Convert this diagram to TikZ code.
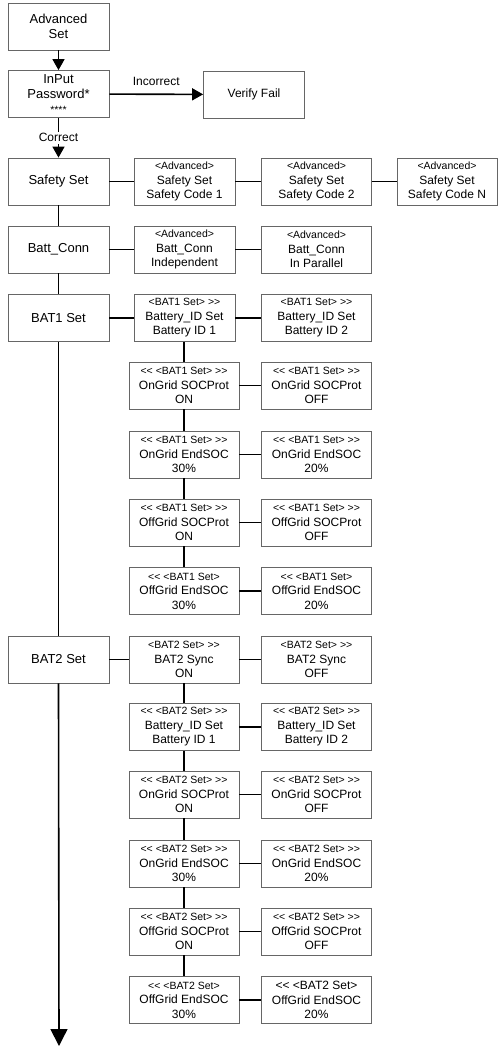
\documentclass[tikz,border=0pt]{standalone}
\usepackage{fontspec}
\setmainfont{Liberation Sans}
\usetikzlibrary{arrows.meta}
\newcommand{\sm}[1]{{\fontsize{10.5}{14.5}\selectfont #1}}
\newcommand{\LL}{<{}<}
\newcommand{\GG}{>{}>}
\begin{document}
\begin{tikzpicture}[x=1pt,y=-1pt,
  box/.style={draw=black!60, line width=0.8pt, minimum height=47pt, inner sep=0pt, align=center,
    font=\fontsize{12}{14.5}\selectfont},
  lbox/.style={box, minimum width=101pt, font=\fontsize{13}{15}\selectfont},
  sbox/.style={box, minimum width=101pt},
  rbox/.style={box, minimum width=110pt},
  conn/.style={line width=1.6pt, black},
  arr/.style={conn, -{Triangle[width=12pt,length=11pt]}},
  bigarr/.style={conn, -{Triangle[width=17pt,length=17pt]}},
  lab/.style={font=\fontsize{12}{14}\selectfont}
]
\useasboundingbox (0,0) rectangle (499,1047);

% left column
\node[lbox] (adv) at (58.5,26.5) {Advanced\\Set};
\node[lbox] (pwd) at (58.5,94) {InPut\\Password*\\\sm{****}};
\node[box, minimum width=101pt] (fail) at (254,94.5) {Verify Fail};
\node[lbox] (safety) at (58.5,181.5) {Safety Set};
\node[lbox] (batt) at (58.5,249.5) {Batt\_Conn};
\node[lbox] (bat1) at (58.5,318) {BAT1 Set};
\node[lbox] (bat2) at (58.5,659.5) {BAT2 Set};
\coordinate (end) at (59,1046);

\draw[arr] (adv) -- (pwd);
\draw[arr] (pwd) -- node[lab, above=5pt] {Incorrect} (fail);
\draw[arr] (pwd) -- node[lab, fill=white, inner sep=1.5pt] {Correct} (safety);
\draw[conn] (safety) -- (batt);
\draw[conn] (batt) -- (bat1);
\draw[conn] (bat1) -- (bat2);
\draw[bigarr] (bat2.south) -- (end);

% safety set
\node[sbox] (sc1) at (184.5,181.5) {\sm{<Advanced>}\\Safety Set\\Safety Code 1};
\node[rbox] (sc2) at (316.5,181.5) {\sm{<Advanced>}\\Safety Set\\Safety Code 2};
\node[sbox, minimum width=100pt] (scN) at (447,181.5) {\sm{<Advanced>}\\Safety Set\\Safety Code N};
\draw[conn] (safety) -- (sc1);
\draw[conn] (sc1) -- (sc2);
\draw[conn] (sc2) -- (scN);

% batt conn
\node[sbox] (ind) at (184.5,249.5) {\sm{<Advanced>}\\Batt\_Conn\\Independent};
\node[rbox] (par) at (316.5,249.5) {\sm{<Advanced>}\\Batt\_Conn\\In Parallel};
\draw[conn] (batt) -- (ind);
\draw[conn] (ind) -- (par);

% BAT1
\node[sbox] (a0l) at (184.5,318) {\sm{<BAT1 Set> \GG}\\Battery\_ID Set\\Battery ID 1};
\node[rbox] (a0r) at (316.5,318) {\sm{<BAT1 Set> \GG}\\Battery\_ID Set\\Battery ID 2};
\node[rbox] (a1l) at (184,385.5) {\sm{\LL{} <BAT1 Set> \GG}\\OnGrid SOCProt\\ON};
\node[rbox] (a1r) at (316.5,385.5) {\sm{\LL{} <BAT1 Set> \GG}\\OnGrid SOCProt\\OFF};
\node[rbox] (a2l) at (184,454.5) {\sm{\LL{} <BAT1 Set> \GG}\\OnGrid EndSOC\\30\%};
\node[rbox] (a2r) at (316.5,454.5) {\sm{\LL{} <BAT1 Set> \GG}\\OnGrid EndSOC\\20\%};
\node[rbox] (a3l) at (184,522.5) {\sm{\LL{} <BAT1 Set> \GG}\\OffGrid SOCProt\\ON};
\node[rbox] (a3r) at (316.5,522.5) {\sm{\LL{} <BAT1 Set> \GG}\\OffGrid SOCProt\\OFF};
\node[rbox] (a4l) at (184,591) {\sm{\LL{} <BAT1 Set>}\\OffGrid EndSOC\\30\%};
\node[rbox] (a4r) at (316.5,591) {\sm{\LL{} <BAT1 Set>}\\OffGrid EndSOC\\20\%};
\draw[conn] (bat1) -- (a0l);
\draw[conn] (a0l) -- (a0r);
\draw[conn] (a0l.south -| a1l.north) -- (a1l.north);
\foreach \i/\j in {1/2,2/3,3/4} \draw[conn] (a\i l) -- (a\j l);
\foreach \i in {1,2,3,4} \draw[conn] (a\i l) -- (a\i r);

% BAT2
\node[rbox] (b0l) at (184,659.5) {\sm{<BAT2 Set> \GG}\\BAT2 Sync\\ON};
\node[rbox] (b0r) at (316.5,659.5) {\sm{<BAT2 Set> \GG}\\BAT2 Sync\\OFF};
\node[rbox] (b1l) at (184,727) {\sm{\LL{} <BAT2 Set> \GG}\\Battery\_ID Set\\Battery ID 1};
\node[rbox] (b1r) at (316.5,727) {\sm{\LL{} <BAT2 Set> \GG}\\Battery\_ID Set\\Battery ID 2};
\node[rbox] (b2l) at (184,794.5) {\sm{\LL{} <BAT2 Set> \GG}\\OnGrid SOCProt\\ON};
\node[rbox] (b2r) at (316.5,794.5) {\sm{\LL{} <BAT2 Set> \GG}\\OnGrid SOCProt\\OFF};
\node[rbox] (b3l) at (184,863.5) {\sm{\LL{} <BAT2 Set> \GG}\\OnGrid EndSOC\\30\%};
\node[rbox] (b3r) at (316.5,863.5) {\sm{\LL{} <BAT2 Set> \GG}\\OnGrid EndSOC\\20\%};
\node[rbox] (b4l) at (184,931.5) {\sm{\LL{} <BAT2 Set> \GG}\\OffGrid SOCProt\\ON};
\node[rbox] (b4r) at (316.5,931.5) {\sm{\LL{} <BAT2 Set> \GG}\\OffGrid SOCProt\\OFF};
\node[rbox] (b5l) at (184,1000) {\sm{\LL{} <BAT2 Set>}\\OffGrid EndSOC\\30\%};
\node[rbox] (b5r) at (316.5,1000) {{\fontsize{12}{14.5}\selectfont \LL{} <BAT2 Set>}\\OffGrid EndSOC\\20\%};
\draw[conn] (bat2) -- (b0l);
\foreach \i/\j in {0/1,1/2,2/3,3/4,4/5} \draw[conn] (b\i l) -- (b\j l);
\foreach \i in {0,1,2,3,4,5} \draw[conn] (b\i l) -- (b\i r);
\end{tikzpicture}
\end{document}
